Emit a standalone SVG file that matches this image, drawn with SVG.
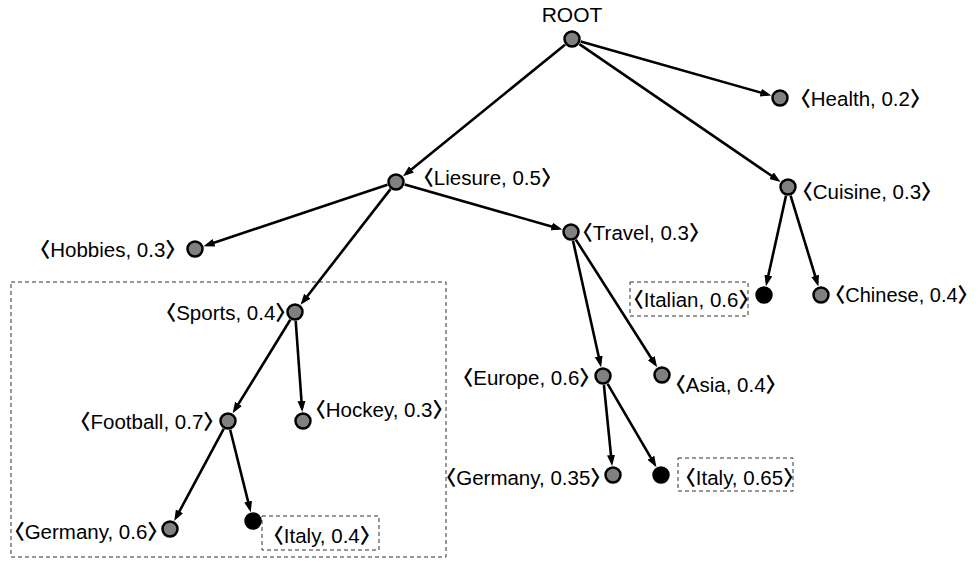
<svg xmlns="http://www.w3.org/2000/svg" width="979" height="563" viewBox="0 0 979 563">
<style>
.n{fill:#808080;stroke:#000;stroke-width:2.5}
.b{fill:#000;stroke:#000;stroke-width:2.5}
.t{font-family:"Liberation Sans","Noto Sans CJK SC",sans-serif;font-size:20.5px;fill:#000}
.r{text-anchor:end}
.k{font-family:"Noto Sans CJK SC",sans-serif;font-weight:700}
.e{stroke:#000;stroke-width:2.6;fill:none;marker-end:url(#ah)}
.d{fill:none;stroke:#333;stroke-width:1;stroke-dasharray:4 3}
</style>
<defs>
<marker id="ah" markerUnits="userSpaceOnUse" markerWidth="12" markerHeight="9" refX="7" refY="4" orient="auto">
<path d="M0,0 L11,4 L0,8 z" fill="#000"/>
</marker>
</defs>
<rect class="d" x="11" y="282" width="435" height="275"/>
<rect class="d" x="262" y="516" width="117" height="34"/>
<rect class="d" x="630" y="282" width="118" height="34"/>
<rect class="d" x="678" y="458" width="115" height="33"/>
<g id="edges">
<line class="e" x1="565" y1="44.7" x2="406.1" y2="173.8"/>
<line class="e" x1="580.7" y1="41.5" x2="767.5" y2="94.5"/>
<line class="e" x1="579.4" y1="44.1" x2="777.3" y2="179.7"/>
<line class="e" x1="387.5" y1="184.8" x2="207.3" y2="244.9"/>
<line class="e" x1="390.5" y1="189.1" x2="303" y2="301.7"/>
<line class="e" x1="404.7" y1="184.5" x2="558.5" y2="228.4"/>
<line class="e" x1="786" y1="195.8" x2="766.8" y2="282.3"/>
<line class="e" x1="790.6" y1="195.6" x2="817.2" y2="282.6"/>
<line class="e" x1="573" y1="240.8" x2="600.2" y2="363.3"/>
<line class="e" x1="575.8" y1="239.6" x2="655" y2="364"/>
<line class="e" x1="603.9" y1="385" x2="611.7" y2="462.1"/>
<line class="e" x1="607.6" y1="383.8" x2="654.4" y2="463.8"/>
<line class="e" x1="290.3" y1="319.7" x2="234.8" y2="409.9"/>
<line class="e" x1="295.7" y1="321" x2="302" y2="408"/>
<line class="e" x1="223.7" y1="428.9" x2="176.1" y2="517.5"/>
<line class="e" x1="230.2" y1="429.7" x2="249.8" y2="508.4"/>
</g>
<g id="root"><circle class="n" cx="572" cy="39" r="7.5"/><text class="t" x="572" y="22" text-anchor="middle" style="font-size:21px">ROOT</text></g>
<g id="health"><circle class="n" cx="780" cy="98" r="7.5"/><text class="t" x="790.3" y="106"><tspan class="k">〈</tspan>Health, 0.2<tspan class="k">〉</tspan></text></g>
<g id="cuisine"><circle class="n" cx="788" cy="187" r="7.5"/><text class="t" x="792.3" y="199"><tspan class="k">〈</tspan>Cuisine, 0.3<tspan class="k">〉</tspan></text></g>
<g id="liesure"><circle class="n" cx="396" cy="182" r="7.5"/><text class="t" x="413.3" y="185"><tspan class="k">〈</tspan>Liesure, 0.5<tspan class="k">〉</tspan></text></g>
<g id="hobbies"><circle class="n" cx="195" cy="249" r="7.5"/><text class="t r" x="185.8" y="257"><tspan class="k">〈</tspan>Hobbies, 0.3<tspan class="k">〉</tspan></text></g>
<g id="travel"><circle class="n" cx="571" cy="232" r="7.5"/><text class="t" x="572.3" y="240"><tspan class="k">〈</tspan>Travel, 0.3<tspan class="k">〉</tspan></text></g>
<g id="sports"><circle class="n" cx="295" cy="312" r="7.5"/><text class="t r" x="295.8" y="320"><tspan class="k">〈</tspan>Sports, 0.4<tspan class="k">〉</tspan></text></g>
<g id="football"><circle class="n" cx="228" cy="421" r="7.5"/><text class="t r" x="223.8" y="429"><tspan class="k">〈</tspan>Football, 0.7<tspan class="k">〉</tspan></text></g>
<g id="hockey"><circle class="n" cx="303" cy="421" r="7.5"/><text class="t" x="305.3" y="417"><tspan class="k">〈</tspan>Hockey, 0.3<tspan class="k">〉</tspan></text></g>
<g id="germany1"><circle class="n" cx="170" cy="529" r="7.5"/><text class="t r" x="167.8" y="539"><tspan class="k">〈</tspan>Germany, 0.6<tspan class="k">〉</tspan></text></g>
<g id="italy1"><circle class="b" cx="253" cy="521" r="7.5"/><text class="t" x="263.3" y="543"><tspan class="k">〈</tspan>Italy, 0.4<tspan class="k">〉</tspan></text></g>
<g id="italian"><circle class="b" cx="764" cy="295" r="7.5"/><text class="t" x="623.3" y="307"><tspan class="k">〈</tspan>Italian, 0.6<tspan class="k">〉</tspan></text></g>
<g id="chinese"><circle class="n" cx="821" cy="295" r="7.5"/><text class="t" x="825.3" y="302" style="font-size:20px"><tspan class="k">〈</tspan>Chinese, 0.4<tspan class="k">〉</tspan></text></g>
<g id="europe"><circle class="n" cx="603" cy="376" r="7.5"/><text class="t r" x="599.8" y="385"><tspan class="k">〈</tspan>Europe, 0.6<tspan class="k">〉</tspan></text></g>
<g id="asia"><circle class="n" cx="662" cy="375" r="7.5"/><text class="t" x="665.3" y="392"><tspan class="k">〈</tspan>Asia, 0.4<tspan class="k">〉</tspan></text></g>
<g id="germany2"><circle class="n" cx="613" cy="475" r="7.5"/><text class="t r" x="610.8" y="485"><tspan class="k">〈</tspan>Germany, 0.35<tspan class="k">〉</tspan></text></g>
<g id="italy3"><circle class="b" cx="661" cy="475" r="7.5"/><text class="t" x="675.3" y="485"><tspan class="k">〈</tspan>Italy, 0.65<tspan class="k">〉</tspan></text></g>
</svg>
